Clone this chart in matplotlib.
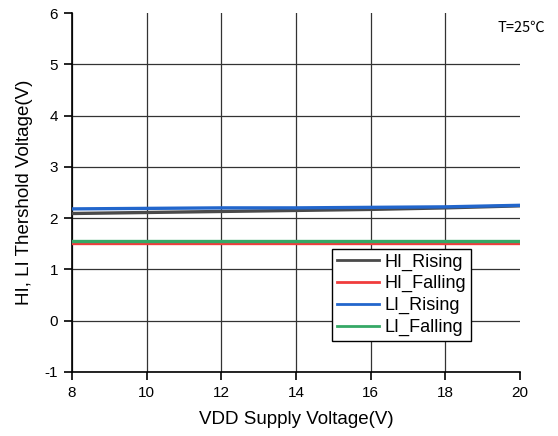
import numpy as np
import matplotlib
matplotlib.use("Agg")
import matplotlib.pyplot as plt

plt.rcParams.update({"font.family": ["Liberation Sans", "DejaVu Sans"], "font.size": 10,
                     "axes.unicode_minus": False})

vdd = [8, 10, 12, 14, 16, 18, 20]
hi_rising = [2.09, 2.11, 2.13, 2.15, 2.17, 2.20, 2.24]
hi_falling = [1.52, 1.52, 1.52, 1.52, 1.52, 1.52, 1.52]
li_rising = [2.18, 2.19, 2.20, 2.20, 2.21, 2.22, 2.25]
li_falling = [1.56, 1.56, 1.56, 1.56, 1.56, 1.56, 1.56]

series = [("HI_Rising", hi_rising, "#4a4a4a"),
          ("HI_Falling", hi_falling, "#f03c3c"),
          ("LI_Rising", li_rising, "#2266cc"),
          ("LI_Falling", li_falling, "#35a866")]

fig = plt.figure(figsize=(5.58, 4.36), dpi=100)
ax = fig.add_axes([0.129, 0.147, 0.803, 0.823])

for name, ys, c in series:
    ax.plot(vdd, ys, color=c, lw=2.4, label=name, zorder=3)

ax.set_xlim(8, 20)
ax.set_ylim(-1, 6)
ax.set_xticks(range(8, 21, 2))
ax.set_yticks(range(-1, 7))
ax.grid(True, color="#333333", lw=0.9, zorder=0)
# no grid line along the top and right edges
ax.xaxis.get_gridlines()[-1].set_visible(False)
ax.yaxis.get_gridlines()[-1].set_visible(False)
for s in ("top", "right"):
    ax.spines[s].set_visible(False)
for s in ("left", "bottom"):
    ax.spines[s].set_linewidth(1.2)
ax.tick_params(direction="out", length=6, width=1.2, labelsize=11, pad=4)

ax.set_xlabel("VDD Supply Voltage(V)", fontsize=13.5, labelpad=8)
ax.set_ylabel("HI, LI Thershold Voltage(V)", fontsize=13.5, labelpad=8)
ax.text(0.949, 0.958, "T=25\u2103", transform=ax.transAxes, ha="left", va="center", fontsize=10.5,
        family=["Noto Sans CJK SC", "Liberation Sans"])

leg = ax.legend(loc="upper left", bbox_to_anchor=(0.581, 0.343), fontsize=13,
                frameon=True, fancybox=False, edgecolor="black", framealpha=1,
                borderpad=0.25, labelspacing=0.26, handlelength=2.35, handletextpad=0.3,
                borderaxespad=0)
leg.get_frame().set_linewidth(1.0)
for line in leg.get_lines():
    line.set_linewidth(2.0)

fig.savefig("out.png", dpi=100)
